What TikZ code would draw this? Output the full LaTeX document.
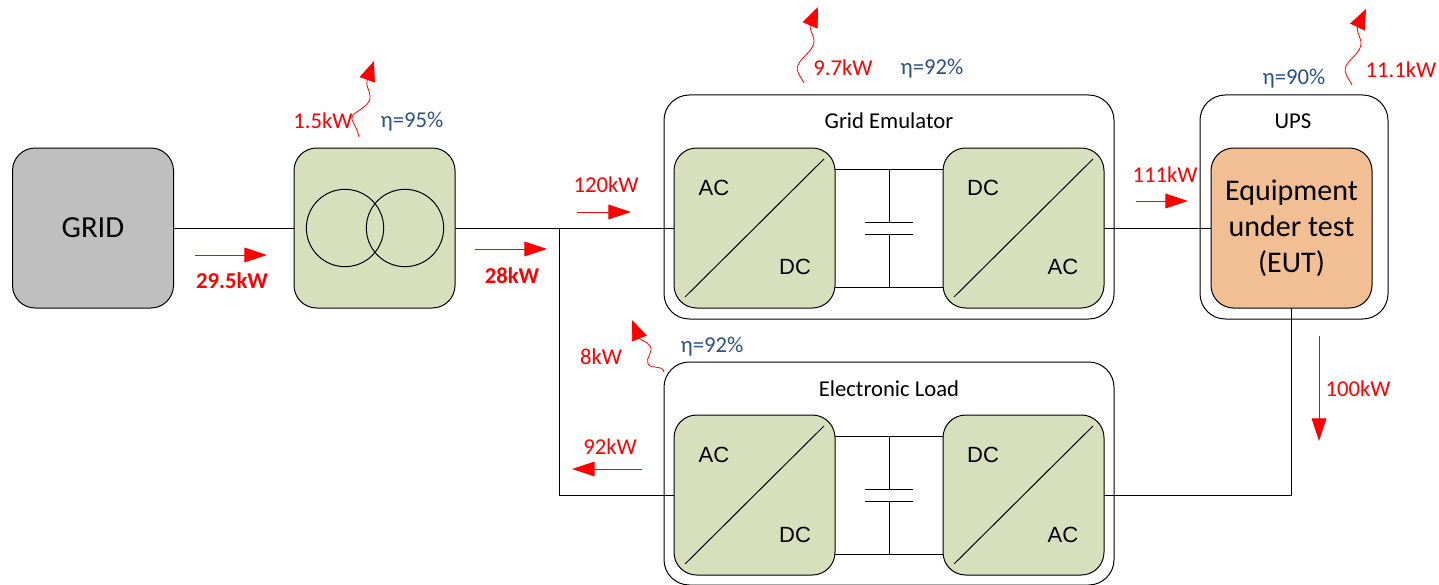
\documentclass[tikz,border=0pt]{standalone}
\usepackage{fontspec}
\setmainfont{Carlito}
\newfontfamily\arialfont{Liberation Sans}
\usetikzlibrary{calc, arrows.meta}
\definecolor{convgreen}{HTML}{D8DFBD}
\definecolor{eutorange}{HTML}{F2BE94}
\definecolor{gridgray}{HTML}{BFBFBF}
\definecolor{etablue}{HTML}{2B5085}
\tikzset{
  wire/.style={black,line width=.75pt},
  block/.style={draw=black,line width=.75pt,rounded corners=17pt,outer sep=0pt,inner sep=0pt,
    minimum width=120.75pt,minimum height=120pt,align=center},
  conv/.style={block,fill=convgreen},
  outerbox/.style={draw=black,line width=.75pt,rounded corners=19pt,outer sep=0pt,inner sep=0pt},
  power/.style={red,font=\fontsize{17}{20}\selectfont},
  powerbold/.style={red,font=\fontsize{17}{20}\selectfont\bfseries},
  eff/.style={etablue,font=\fontsize{17}{20}\selectfont},
  title/.style={font=\fontsize{17}{20}\selectfont},
  port/.style={font=\arialfont\fontsize{16.5}{19}\selectfont},
  flow/.style={red,line width=.75pt,-{Triangle[length=17pt,width=11pt]}},
  loss/.style={red,line width=.6pt,-{Triangle[length=15pt,width=12pt]}},
}
\begin{document}
\begin{tikzpicture}[x=.75pt,y=-.75pt]
\useasboundingbox (0,0) rectangle (1439,585);
% outer frames
\node[outerbox,minimum width=337.5pt,minimum height=168pt] (gebox) at (889,207) {};
\node[outerbox,minimum width=337.5pt,minimum height=167.25pt] (elbox) at (889,473.5) {};
\node[outerbox,minimum width=141pt,minimum height=168pt] (upsbox) at (1294,207) {};
% blocks
\node[block,fill=gridgray,font=\fontsize{23}{27}\selectfont] (grid) at (93,228) {GRID};
\node[conv] (trafo) at (374.5,228) {};
\node[conv] (geac) at (754.5,228) {};
\node[conv] (gedc) at (1023.5,228) {};
\node[conv] (elac) at (754.5,495) {};
\node[conv] (eldc) at (1023.5,495) {};
\node[block,fill=eutorange,font=\fontsize{22.5}{27}\selectfont] (eut) at (1291.5,228) {Equipment\\under test\\(EUT)};
\coordinate (tee) at (559,228);
\coordinate (corner1) at (559,495);
\coordinate (corner2) at (1291,495);
% main wiring
\draw[wire] (grid) -- (trafo);
\draw[wire] (trafo) -- (geac);
\draw[wire] (gedc) -- (eut);
\draw[wire] (tee) -- (corner1) -- (elac);
\draw[wire] (eldc) -- (corner2) -- (corner2 |- eut.south);
% transformer windings
\node[draw=black,line width=.75pt,circle,minimum size=58pt,inner sep=0pt] (wind1) at (345,228) {};
\node[draw=black,line width=.75pt,circle,minimum size=58pt,inner sep=0pt] (wind2) at (405,228) {};
% dc links
\foreach \n/\c/\y in {ge/gecap/228,el/elcap/495} {
  \coordinate (\c top) at (889,\y-59);
  \coordinate (\c bot) at (889,\y+59);
  \coordinate (\c a) at (889,\y-6);
  \coordinate (\c b) at (889,\y+6);
  \draw[wire] (\c top -| \n ac.east) -- (\c top -| \n dc.west);
  \draw[wire] (\c bot -| \n ac.east) -- (\c bot -| \n dc.west);
  \draw[wire] (\c top) -- (\c a);
  \draw[wire] (\c bot) -- (\c b);
  \draw[wire] ($(\c a)+(-24,0)$) -- ($(\c a)+(24,0)$);
  \draw[wire] ($(\c b)+(-24,0)$) -- ($(\c b)+(24,0)$);
}
% diagonals
\foreach \n in {geac,gedc,elac,eldc}
  \draw[wire] ($(\n.south west)+(11,-11)$) -- ($(\n.north east)+(-11,11)$);
% ports
\node[port] (p1) at (714,188) {AC};
\node[port] (p2) at (795,267) {DC};
\node[port] (p3) at (983,188) {DC};
\node[port] (p4) at (1063,267) {AC};
\node[port] (p5) at (714,455) {AC};
\node[port] (p6) at (795,535) {DC};
\node[port] (p7) at (983,455) {DC};
\node[port] (p8) at (1063,535) {AC};
% titles
\node[title] (t1) at (889,121) {Grid Emulator};
\node[title] (t2) at (889,389) {Electronic Load};
\node[title] (t3) at (1293,121) {UPS};
% power flow
\coordinate (fa1) at (195,255); \coordinate (fa2) at (267,255);
\coordinate (fb1) at (475,249); \coordinate (fb2) at (547,249);
\coordinate (fc1) at (577,212); \coordinate (fc2) at (631,212);
\coordinate (fd1) at (1136,201); \coordinate (fd2) at (1188,201);
\coordinate (fe1) at (642,469); \coordinate (fe2) at (572,469);
\coordinate (ff1) at (1319,336); \coordinate (ff2) at (1319,441);
\foreach \a/\b in {fa1/fa2,fb1/fb2,fc1/fc2,fd1/fd2,fe1/fe2,ff1/ff2}
  \draw[flow] (\a) -- (\b);
\node[powerbold] (l1) at (232,281) {29.5kW};
\node[powerbold] (l2) at (512,276) {28kW};
\node[power] (l3) at (606,185) {120kW};
\node[power] (l4) at (1165,175) {111kW};
\node[power] (l5) at (610,447) {92kW};
\node[power] (l6) at (1358,389) {100kW};
% losses
\coordinate (wa) at (359,137); \coordinate (wb) at (374,61);
\coordinate (wc) at (804,83); \coordinate (wd) at (818,7);
\coordinate (we) at (1352,85); \coordinate (wf) at (1366,9);
\coordinate (wg) at (664,372); \coordinate (wh) at (632,320);
\draw[loss] (wa) .. controls (356,122) and (348,120) .. (354,114) .. controls (362,108) and (371,104) .. (370,96) .. controls (370,90) and (365,86) .. (wb);
\draw[loss] (wc) .. controls (801,76) and (795,72) .. (798,65) .. controls (802,56) and (815,50) .. (814,40) .. controls (813,34) and (809,28) .. (wd);
\draw[loss] (we) .. controls (1349,78) and (1343,74) .. (1346,66) .. controls (1350,58) and (1362,52) .. (1361,42) .. controls (1360,36) and (1356,30) .. (wf);
\draw[loss] (wg) .. controls (662,364) and (652,370) .. (648,364) .. controls (645,358) and (654,352) .. (650,346) .. controls (647,341) and (640,340) .. (wh);
\node[power] (l7) at (323,121) {1.5kW};
\node[power] (l8) at (843,68) {9.7kW};
\node[power] (l9) at (1401,70) {11.1kW};
\node[power] (l10) at (601,357) {8kW};
% efficiencies
\node[eff] (e1) at (412,122) {η=95\%};
\node[eff] (e2) at (932,69) {η=92\%};
\node[eff] (e3) at (1294,79) {η=90\%};
\node[eff] (e4) at (712,347) {η=92\%};
\end{tikzpicture}
\end{document}
